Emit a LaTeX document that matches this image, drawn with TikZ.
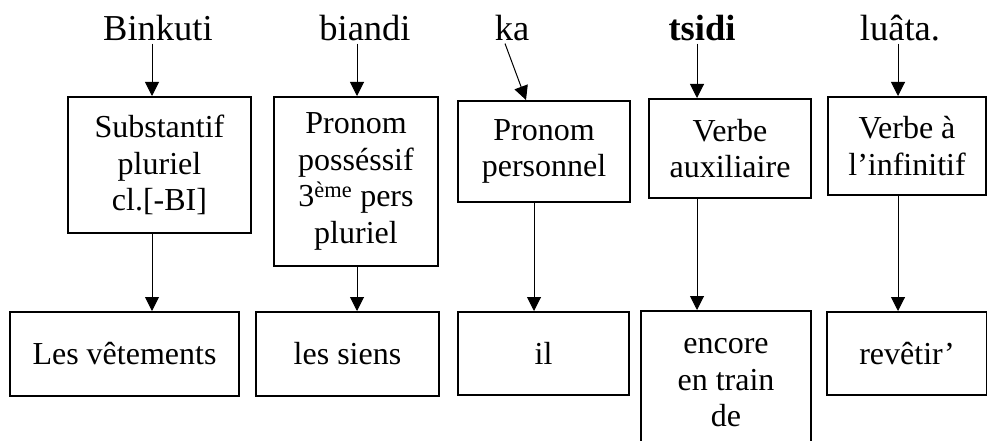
\documentclass[tikz,border=0pt]{standalone}
\usepackage{fontspec}
\setmainfont{Liberation Serif}
\usetikzlibrary{arrows.meta}

\begin{document}
\begin{tikzpicture}[x=1pt, y=-1pt,
                    every node/.style={font=\fontsize{32}{36.5}\selectfont},
                    word/.style={inner sep=2pt, anchor=base, font=\fontsize{36.5}{40}\selectfont},
                    cat/.style={draw, line width=2pt, inner sep=0pt, align=center},
                    gloss/.style={draw, line width=2pt, inner sep=0pt, align=center},
                    lnk/.style={-{Triangle[length=14pt, width=14pt]}, line width=1pt}]

    \useasboundingbox (0,0) rectangle (987,441);

    \node[word] (w1) at (158,41) {Binkuti};
    \node[word] (w2) at (365,41) {biandi};
    \node[word] (w3) at (512,41) {ka};
    \node[word] (w4) at (702,41) {\textbf{tsidi}};
    \node[word] (w5) at (900,41) {luâta.};

    \node[cat, minimum width=183pt, minimum height=136pt] (c1) at (159.5,165) {Substantif\\pluriel\\cl.[-BI]};
    \node[cat, minimum width=164pt, minimum height=169pt] (c2) at (356,181.5) {Pronom\\posséssif\\3\textsuperscript{ème} pers\\pluriel};
    \node[cat, minimum width=172pt, minimum height=101pt] (c3) at (544,151.5) {Pronom\\personnel};
    \node[cat, minimum width=162pt, minimum height=99pt] (c4) at (730,148.5) {Verbe\\auxiliaire};
    \node[cat, minimum width=158pt, minimum height=98pt] (c5) at (907,146) {Verbe à\\l’infinitif};

    \node[gloss, minimum width=229pt, minimum height=84pt] (g1) at (124.5,354) {Les vêtements};
    \node[gloss, minimum width=183pt, minimum height=84pt] (g2) at (347.5,354) {les siens};
    \node[gloss, minimum width=171pt, minimum height=83pt] (g3) at (543.5,353.5) {il};
    \node[gloss, minimum width=170pt, minimum height=144pt] (g4) at (726,383) {encore\\en train\\de};
    \node[gloss, minimum width=160pt, minimum height=83pt] (g5) at (907,353.5) {revêtir’};

    \coordinate (a1) at (152,0);
    \coordinate (a2) at (357,0);
    \coordinate (a3) at (534,0);
    \coordinate (a4) at (697,0);
    \coordinate (a5) at (898,0);

    \draw[lnk] (w1.south -| a1) -- (c1.north -| a1);
    \draw[lnk] (w2.south -| a2) -- (c2.north -| a2);
    \draw[lnk] ([xshift=-7pt]w3.south) -- ([xshift=-18pt]c3.north);
    \draw[lnk] (w4.south -| a4) -- (c4.north -| a4);
    \draw[lnk] (w5.south -| a5) -- (c5.north -| a5);

    \draw[lnk] (c1.south -| a1) -- (g1.north -| a1);
    \draw[lnk] (c2.south -| a2) -- (g2.north -| a2);
    \draw[lnk] (c3.south -| a3) -- (g3.north -| a3);
    \draw[lnk] (c4.south -| a4) -- (g4.north -| a4);
    \draw[lnk] (c5.south -| a5) -- (g5.north -| a5);
\end{tikzpicture}
\end{document}
